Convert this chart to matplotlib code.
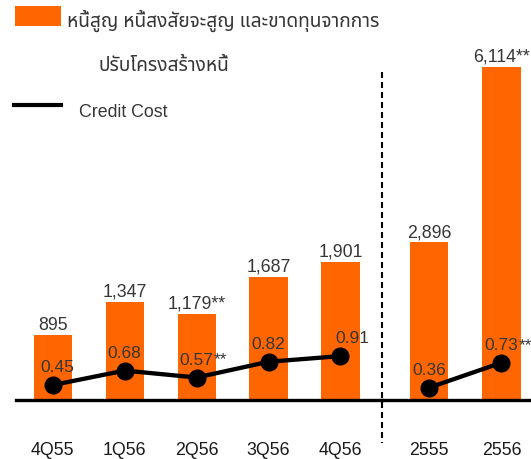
import matplotlib
matplotlib.use("Agg")
import matplotlib.pyplot as plt
from matplotlib.lines import Line2D
from matplotlib.patches import Rectangle

# ---- data -------------------------------------------------------------------
quarters = ["4Q55", "1Q56", "2Q56", "3Q56", "4Q56"]
quarter_loss = [895, 1347, 1179, 1687, 1901]
quarter_loss_note = ["", "", "**", "", ""]
quarter_cost = [0.45, 0.68, 0.57, 0.82, 0.91]
quarter_cost_note = ["", "", "**", "", ""]

years = ["2555", "2556"]
year_loss = [2896, 6114]
year_loss_note = ["", "**"]
year_cost = [0.36, 0.73]
year_cost_note = ["", "**"]

legend_bar = "หนี้สูญ หนี้สงสัยจะสูญ และขาดทุนจากการ"
legend_bar2 = "ปรับโครงสร้างหนี้"
legend_line = "Credit Cost"

ORANGE = "#FF6600"
TEXT = "#363636"
THAI = ["Noto Sans Thai", "Loma", "DejaVu Sans"]
W, H = 531, 459

plt.rcParams["font.family"] = ["Liberation Sans", "DejaVu Sans"]

fig = plt.figure(figsize=(W / 100, H / 100), dpi=100)


def px(x, y):
    return x / W, 1 - y / H


def draw_group(left, right, labels, loss, loss_note, cost, cost_note,
               xlim, loss_top, cost_lim, nudge):
    base = 1 - 400 / H
    top = 1 - 20 / H
    ax = fig.add_axes([left / W, base, (right - left) / W, top - base])
    x = list(range(len(labels)))
    ax.bar(x, loss, width=0.53, color=ORANGE, zorder=2)
    ax.set_xlim(*xlim)
    ax.set_ylim(0, loss_top)
    ax.axhline(0, color="black", lw=2.4, zorder=3, clip_on=False)
    ax.set_xticks(x, labels)
    ax.set_yticks([])
    ax.tick_params(length=0, pad=30.3, labelsize=12.8, labelcolor="#1a1a1a")
    ax.spines[:].set_visible(False)
    ax.patch.set_visible(False)
    for xi, v, n in zip(x, loss, loss_note):
        ax.annotate(f"{v:,}{n}", (xi, v), xytext=(0, 1), textcoords="offset points",
                    ha="center", va="bottom", fontsize=12.8, color=TEXT)

    # credit cost on its own scale
    ax2 = ax.twinx()
    ax2.plot(x, cost, color="black", lw=3.1, marker="o", ms=12, zorder=4)
    ax2.set_ylim(*cost_lim)
    ax2.set_yticks([])
    ax2.spines[:].set_visible(False)
    for xi, v, n, dx in zip(x, cost, cost_note, nudge):
        t = ax2.annotate(f"{v:.2f}", (xi, v), xytext=(dx, 7.2), textcoords="offset points",
                         ha="center", va="bottom", fontsize=12.5, color=TEXT)
        if n:
            ax2.annotate(n, xy=(1, 0), xycoords=t, ha="left", va="bottom",
                         fontsize=12.5, color=TEXT)


draw_group(16, 381.7, quarters, quarter_loss, quarter_loss_note,
           quarter_cost, quarter_cost_note,
           (-0.510, 4.573), 5227, (0.213, 6.245), [3, 0, 0, 0, 8.6])
draw_group(381.7, W, years, year_loss, year_loss_note,
           year_cost, year_cost_note,
           (-0.652, 1.407), 6985, (0.178, 5.799), [0, 0])

# separator between quarters and years
fig.add_artist(Line2D([381.7 / W] * 2, [1 - 72 / H, 1 - 443 / H], color="black",
                      lw=1.5, linestyle=(0, (2.9, 1.9))))

# legend drawn by hand
fig.add_artist(Rectangle(px(15, 26), 46 / W, 20 / H, color=ORANGE, lw=0))
fig.text(*px(67, 27), legend_bar, fontsize=13.8, color=TEXT, va="baseline", family=THAI)
fig.text(*px(98, 71), legend_bar2, fontsize=13.8, color=TEXT, va="baseline", family=THAI)
fig.add_artist(Line2D([14 / W, 61 / W], [1 - 105 / H] * 2, color="black", lw=3))
fig.text(*px(79, 116.7), legend_line, fontsize=12.8, color=TEXT, va="baseline")

fig.savefig("out.png", dpi=100)
